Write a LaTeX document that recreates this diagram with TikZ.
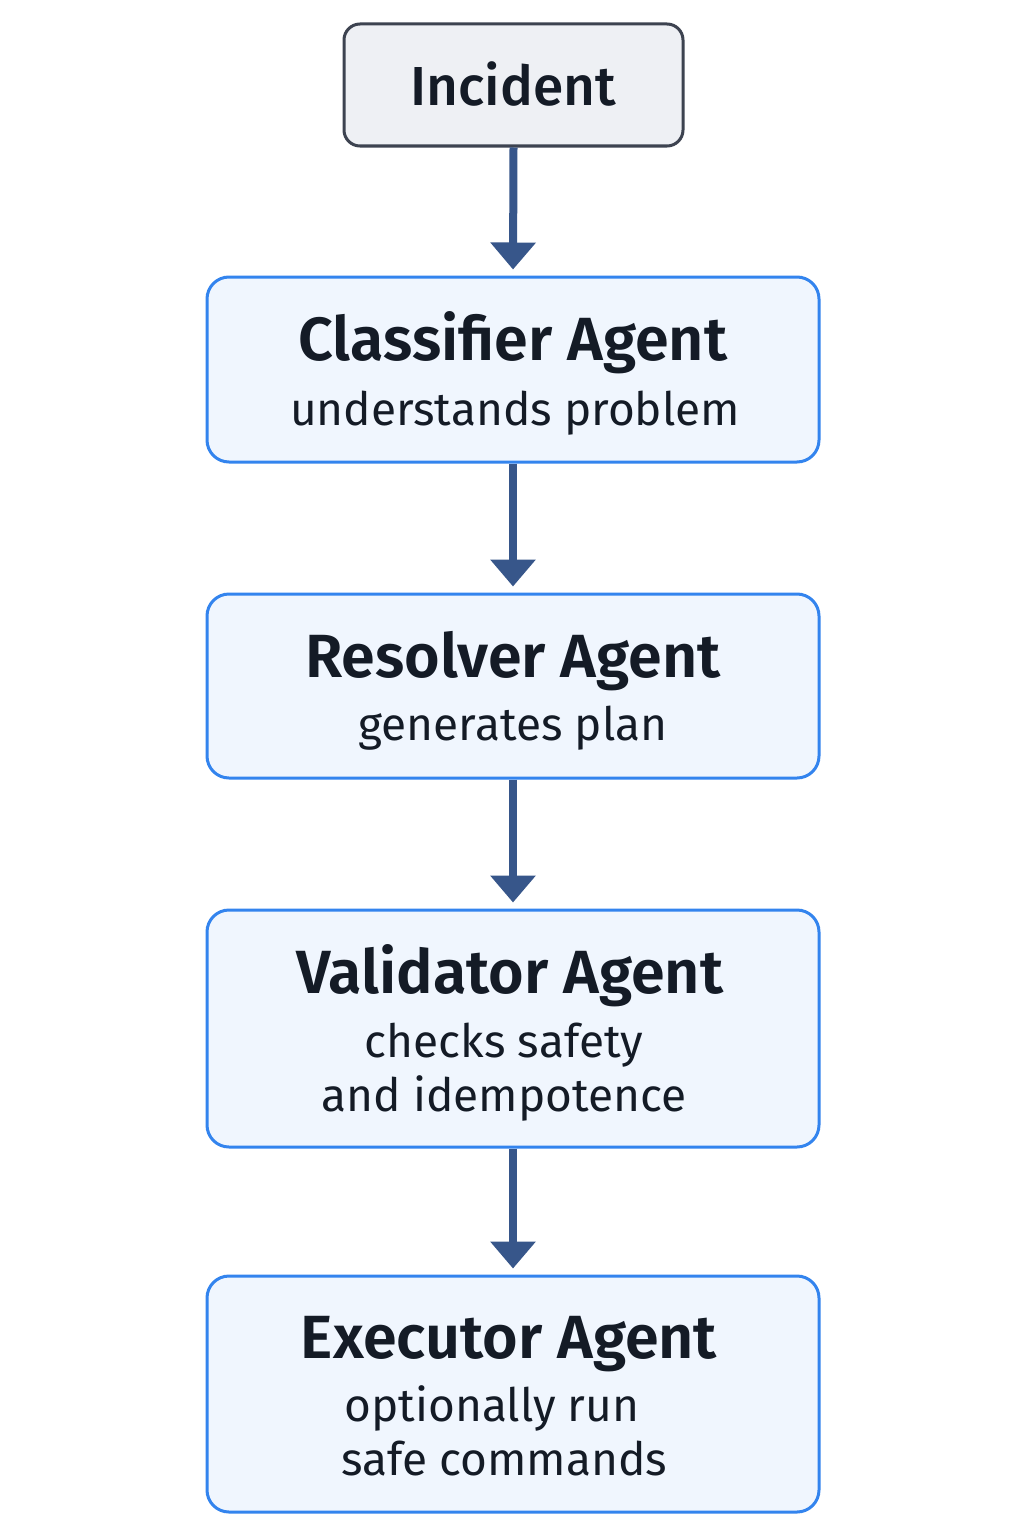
\documentclass[tikz,border=0pt]{standalone}
\usepackage{fontspec}
\setmainfont{Fira Sans}[BoldFont={Fira Sans SemiBold}]
\newfontfamily\medfont{Fira Sans Medium}
\usetikzlibrary{arrows.meta}
\definecolor{txt}{HTML}{141B26}
\definecolor{arrc}{HTML}{37568A}
\definecolor{incfill}{HTML}{EEF0F4}
\definecolor{incdraw}{HTML}{3D4350}
\definecolor{bfill}{HTML}{F0F6FE}
\definecolor{bdraw}{HTML}{3384EE}
\tikzset{
  incbox/.style={draw=incdraw, fill=incfill, line width=3pt, rounded corners=16pt, inner sep=0pt},
  agentbox/.style={draw=bdraw, fill=bfill, line width=3pt, rounded corners=22pt, inner sep=0pt},
  ttl/.style={anchor=base, text=txt, font=\fontsize{61}{70}\selectfont\bfseries, inner sep=0pt},
  sub/.style={anchor=base, text=txt, font=\fontsize{46}{54}\selectfont, inner sep=0pt},
  arr/.style={draw=arrc, line width=8pt, -{Triangle[width=44pt,length=27pt]}, shorten >=6pt}
}
\begin{document}
\begin{tikzpicture}[x=1pt,y=-1pt]
\useasboundingbox (0,0) rectangle (1024,1536);
\fill[white] (0,0) rectangle (1024,1536);
\node[incbox, minimum width=339pt, minimum height=122pt] (inc) at (513.5,85) {};
\node[agentbox, minimum width=612pt, minimum height=185pt] (cls) at (513,369.5) {};
\node[agentbox, minimum width=612pt, minimum height=184pt] (res) at (513,686) {};
\node[agentbox, minimum width=612pt, minimum height=237pt] (val) at (513,1028.5) {};
\node[agentbox, minimum width=612pt, minimum height=236pt] (exe) at (513,1394) {};
\node[ttl, font=\fontsize{55}{60}\medfont] (inct) at (513,106) {Incident};
\node[ttl] (clst) at (513,360) {Classifier Agent};
\node[sub] (clss) at (515,425) {understands problem};
\node[ttl] (rest) at (513,677) {Resolver Agent};
\node[sub] (ress) at (513,740) {generates plan};
\node[ttl] (valt) at (510,993) {Validator Agent};
\node[sub] (vals1) at (504,1057) {checks safety};
\node[sub] (vals2) at (504,1111) {and idempotence};
\node[ttl] (exet) at (509,1358) {Executor Agent};
\node[sub] (exes1) at (492,1421) {optionally run};
\node[sub] (exes2) at (504,1475) {safe commands};
\draw[arr] (inc.south) -- (cls.north);
\draw[arr] (cls.south) -- (res.north);
\draw[arr] (res.south) -- (val.north);
\draw[arr] (val.south) -- (exe.north);
\end{tikzpicture}
\end{document}
